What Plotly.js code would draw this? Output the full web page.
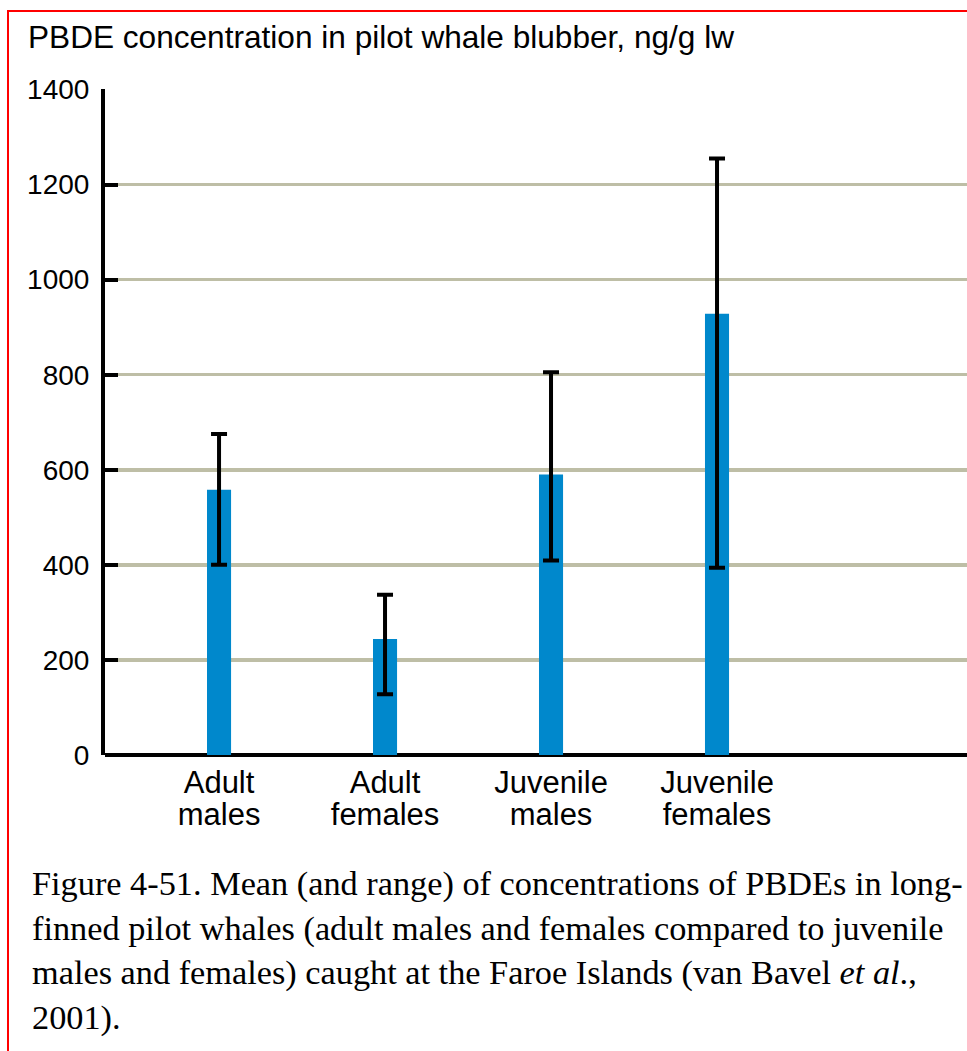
<!DOCTYPE html>
<html>
<head>
<meta charset="utf-8">
<script src="https://cdn.plot.ly/plotly-3.0.1.min.js"></script>
<style>
  html, body { margin: 0; padding: 0; background: #ffffff; }
  #wrap { position: relative; width: 967px; height: 1051px; overflow: hidden; }
  #chart { position: absolute; left: 0; top: 0; width: 967px; height: 1051px; }
  #frame { position: absolute; left: 7px; top: 10px; width: 980px; height: 1060px;
           border-left: 2px solid #ff0000; border-top: 2px solid #ff0000; pointer-events: none; }
</style>
</head>
<body>
<div id="wrap">
  <div id="chart"></div>
  <div id="frame"></div>
</div>
<script>
// ---- data ----
const categories = ["Adult males", "Adult females", "Juvenile males", "Juvenile females"];
const meanValues = [558, 244, 590, 928];
const rangeMax   = [675, 337, 805, 1255];
const rangeMin   = [400, 128, 409, 394];
const yTickValues = [0, 200, 400, 600, 800, 1000, 1200, 1400];
const chartTitle = "PBDE concentration in pilot whale blubber, ng/g lw";
const captionLines = [
  "Figure 4-51. Mean (and range) of concentrations of PBDEs in long-",
  "finned pilot whales (adult males and females compared to juvenile",
  "males and females) caught at the Faroe Islands (van Bavel <i>et al</i>.,",
  "2001)."
];

// ---- derived ----
const xIdx = categories.map((c, i) => i);
const labelLine1 = categories.map(c => c.split(" ")[0]);
const labelLine2 = categories.map(c => c.split(" ").slice(1).join(" "));
const errPlus  = meanValues.map((v, i) => rangeMax[i] - v);
const errMinus = meanValues.map((v, i) => v - rangeMin[i]);

const sans = "Liberation Sans, Arial, sans-serif";
const serif = "Liberation Serif, Times New Roman, serif";
const xRange = [-0.687, 4.506];

const barTrace = {
  type: "bar",
  x: xIdx,
  y: meanValues,
  width: 0.145,
  marker: { color: "#0088cc", line: { width: 0 } },
  error_y: {
    type: "data",
    symmetric: false,
    array: errPlus,
    arrayminus: errMinus,
    color: "#000000",
    thickness: 4,
    width: 8
  },
  hoverinfo: "none",
  showlegend: false
};

// invisible helper trace so the second-line label axis is drawn
const labelTrace = {
  type: "scatter",
  mode: "markers",
  x: xIdx,
  y: meanValues,
  xaxis: "x2",
  yaxis: "y",
  marker: { opacity: 0, size: 1 },
  hoverinfo: "none",
  showlegend: false
};

const layout = {
  width: 967,
  height: 1051,
  margin: { l: 105, r: 0, t: 89, b: 296, pad: 0 },
  paper_bgcolor: "#ffffff",
  plot_bgcolor: "#ffffff",
  showlegend: false,
  title: {
    text: chartTitle,
    font: { family: sans, size: 31.6, color: "#000000" },
    xref: "container", x: 28 / 967, xanchor: "left",
    yref: "container", y: 1 - 37 / 1051, yanchor: "middle"
  },
  xaxis: {
    range: xRange,
    tickmode: "array",
    tickvals: xIdx,
    ticktext: labelLine1,
    ticks: "",
    showgrid: false,
    zeroline: false,
    showline: false,
    ticklabelstandoff: 6,
    tickfont: { family: sans, size: 31, color: "#000000" },
    fixedrange: true
  },
  xaxis2: {
    overlaying: "x",
    anchor: "y",
    side: "bottom",
    range: xRange,
    tickmode: "array",
    tickvals: xIdx,
    ticktext: labelLine2,
    ticks: "",
    showgrid: false,
    zeroline: false,
    showline: false,
    ticklabelstandoff: 38,
    tickfont: { family: sans, size: 31, color: "#000000" },
    fixedrange: true
  },
  yaxis: {
    range: [0, 1401],
    tickmode: "array",
    tickvals: yTickValues,
    ticks: "inside",
    ticklen: 13,
    tickwidth: 4,
    tickcolor: "#000000",
    showgrid: true,
    gridcolor: "#bebea6",
    gridwidth: 3.5,
    zeroline: true,
    zerolinecolor: "#000000",
    zerolinewidth: 4,
    showline: true,
    linecolor: "#000000",
    linewidth: 4,
    ticklabelstandoff: 6,
    tickfont: { family: sans, size: 28, color: "#000000" },
    fixedrange: true
  },
  annotations: [{
    text: captionLines.join("<br>"),
    xref: "paper", yref: "paper",
    x: (30 - 105) / 866, y: (755 - 862) / 666,
    xanchor: "left", yanchor: "top",
    align: "left",
    showarrow: false,
    font: { family: serif, size: 34.3, color: "#000000" }
  }]
};

Plotly.newPlot("chart", [barTrace, labelTrace], layout, { staticPlot: true, displayModeBar: false });
</script>
</body>
</html>
